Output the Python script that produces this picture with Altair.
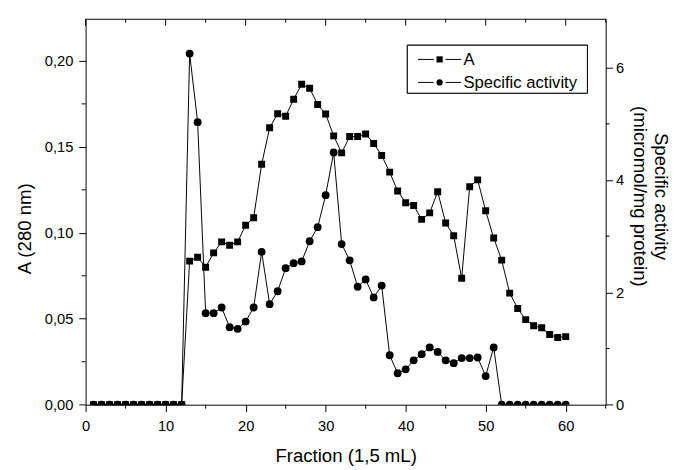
import altair as alt
import pandas as pd

# ---------------- data ----------------
fractions = [1, 2, 3, 4, 5, 6, 7, 8, 9, 10, 11, 12, 13, 14, 15, 16, 17, 18, 19, 20,
             21, 22, 23, 24, 25, 26, 27, 28, 29, 30, 31, 32, 33, 34, 35, 36, 37, 38, 39, 40,
             41, 42, 43, 44, 45, 46, 47, 48, 49, 50, 51, 52, 53, 54, 55, 56, 57, 58, 59, 60]

absorbance_280 = [0, 0, 0, 0, 0, 0, 0, 0, 0, 0, 0, 0,
                  0.0835, 0.0858, 0.0800, 0.0883, 0.0947, 0.0928, 0.0947, 0.1044,
                  0.1088, 0.1399, 0.1611, 0.1693, 0.1678, 0.1777, 0.1864, 0.1841,
                  0.1746, 0.1691, 0.1564, 0.1465, 0.1560, 0.1560, 0.1575, 0.1520,
                  0.1450, 0.1353, 0.1243, 0.1175, 0.1159, 0.1078, 0.1116, 0.1239,
                  0.1057, 0.0983, 0.0736, 0.1268, 0.1308, 0.1128, 0.0970, 0.0841,
                  0.0649, 0.0560, 0.0495, 0.0459, 0.0448, 0.0408, 0.0391, 0.0396]

specific_activity = [0, 0, 0, 0, 0, 0, 0, 0, 0, 0, 0, 0,
                     6.25, 5.03, 1.63, 1.63, 1.73, 1.38, 1.35, 1.48,
                     1.73, 2.72, 1.79, 2.02, 2.43, 2.52, 2.55, 2.91,
                     3.16, 3.73, 4.49, 2.86, 2.57, 2.10, 2.23, 1.91,
                     2.12, 0.88, 0.56, 0.63, 0.79, 0.90, 1.02, 0.94,
                     0.79, 0.74, 0.83, 0.83, 0.84, 0.51, 1.02, 0,
                     0, 0, 0, 0, 0, 0, 0, 0]

x_major_ticks = [0, 10, 20, 30, 40, 50, 60]
x_minor_ticks = [5, 15, 25, 35, 45, 55, 65]
a_major_ticks = [0.0, 0.05, 0.10, 0.15, 0.20]
a_minor_ticks = [0.025, 0.075, 0.125, 0.175]
sa_major_ticks = [0, 2, 4, 6]
sa_minor_ticks = [1, 3, 5]
series_names = ["A", "Specific activity"]
series_shapes = ["square", "circle"]

# ---------------- layout / style ----------------
W, H = 531.4, 394.3
FONT = "Liberation Sans"
MAJ, MIN = 7, 4
TITLE_FS = 19

df = pd.DataFrame({"fraction": fractions, "A": absorbance_280, "SA": specific_activity})
legend_df = pd.DataFrame({"series": series_names})

x_scale = alt.Scale(domain=[0, 65], nice=False, zero=False)
a_scale = alt.Scale(domain=[0, 0.2245], nice=False)
sa_scale = alt.Scale(domain=[0, 6.87], nice=False)

x_axis = alt.Axis(orient="bottom", values=x_major_ticks, format="d", title="Fraction (1,5 mL)",
                  labelFontSize=15, tickSize=MAJ, labelPadding=7,
                  titleFontSize=TITLE_FS, titleFontWeight="normal",
                  titleBaseline="alphabetic", titleY=57.7,
                  domain=False, grid=False, labelFlush=False)

a_axis = alt.Axis(orient="left", values=a_major_ticks,
                  labelExpr="replace(format(datum.value, '.2f'), '.', ',')",
                  labelFontSize=15, tickSize=MAJ, labelPadding=6,
                  title="A (280 nm)", titleFontSize=TITLE_FS, titleFontWeight="normal",
                  titlePadding=10, titleY=214,
                  domain=False, grid=False, labelFlush=False)

sa_axis = alt.Axis(orient="right", values=sa_major_ticks, format="d",
                   labelFontSize=15, tickSize=MAJ, labelPadding=3,
                   title=["Specific activity", "(micromol/mg protein)"],
                   titleFontSize=TITLE_FS, titleFontWeight="normal", titleLineHeight=21.6,
                   titlePadding=6, titleY=181,
                   domain=False, grid=False, labelFlush=False)


def X(field="fraction:Q"):
    # every layer on the shared x scale carries the identical axis definition
    return alt.X(field, scale=x_scale, axis=x_axis)


# ---------------- data layers ----------------
line_sa = alt.Chart(df).mark_line(color="black", strokeWidth=1).encode(
    x=X(), y=alt.Y("SA:Q", scale=sa_scale, axis=sa_axis))
pts_sa = alt.Chart(df).mark_point(shape="circle", filled=True, color="black",
                                  size=64, opacity=1, clip=True).encode(
    x=X(), y=alt.Y("SA:Q", scale=sa_scale, axis=None))
line_a = alt.Chart(df).mark_line(color="black", strokeWidth=1).encode(
    x=X(), y=alt.Y("A:Q", scale=a_scale, axis=a_axis))
pts_a = alt.Chart(df).mark_point(shape="square", filled=True, color="black",
                                 size=50, opacity=1, clip=True).encode(
    x=X(), y=alt.Y("A:Q", scale=a_scale, axis=None))

# ---------------- minor / mirrored ticks ----------------
left_minor = alt.Chart(pd.DataFrame({"v": a_minor_ticks})).mark_rule(color="black").encode(
    y=alt.Y("v:Q", scale=a_scale, axis=None), x=alt.value(0), x2=alt.value(-MIN))
right_minor = alt.Chart(pd.DataFrame({"v": sa_minor_ticks})).mark_rule(color="black").encode(
    y=alt.Y("v:Q", scale=sa_scale, axis=None), x=alt.value(W), x2=alt.value(W + MIN))
bottom_minor = alt.Chart(pd.DataFrame({"v": x_minor_ticks})).mark_rule(color="black").encode(
    x=X("v:Q"), y=alt.value(H), y2=alt.value(H + MIN))
top_major = alt.Chart(pd.DataFrame({"v": x_major_ticks})).mark_rule(color="black").encode(
    x=X("v:Q"), y=alt.value(0), y2=alt.value(MAJ))
top_minor = alt.Chart(pd.DataFrame({"v": x_minor_ticks})).mark_rule(color="black").encode(
    x=X("v:Q"), y=alt.value(0), y2=alt.value(MIN))

# ---------------- legend (box, line-marker-line symbols, labels) ----------------
LX0, LX1, LY0, LY1 = 328.7, 512.7, 27, 76
row_y = alt.Y("series:N", scale=alt.Scale(type="point", domain=series_names,
                                          range=[41.5, 65], padding=0), axis=None)
leg_box = alt.Chart(legend_df).mark_rect(fill="white", stroke="black", strokeWidth=1).encode(
    x=alt.value(LX0), x2=alt.value(LX1), y=alt.value(LY0), y2=alt.value(LY1))
leg_line_l = alt.Chart(legend_df).mark_rule(color="black", strokeWidth=1).encode(
    x=alt.value(339.7), x2=alt.value(355.7), y=row_y)
leg_line_r = alt.Chart(legend_df).mark_rule(color="black", strokeWidth=1).encode(
    x=alt.value(367.7), x2=alt.value(383.7), y=row_y)
leg_pts = alt.Chart(legend_df).mark_point(filled=True, color="black", size=40,
                                          opacity=1).encode(
    x=alt.value(361.7), y=row_y,
    shape=alt.Shape("series:N", scale=alt.Scale(domain=series_names, range=series_shapes),
                    legend=None))
leg_text = alt.Chart(legend_df).mark_text(align="left", baseline="middle", fontSize=17,
                                          color="black", dy=1).encode(
    x=alt.value(386), y=row_y, text="series:N")

chart = alt.layer(
    line_sa, pts_sa, line_a, pts_a,
    left_minor, right_minor, bottom_minor, top_major, top_minor,
    leg_box, leg_line_l, leg_line_r, leg_pts, leg_text,
).resolve_scale(
    y="independent"
).properties(
    width=W, height=H,
    autosize=alt.AutoSizeParams(type="none"),
    padding={"left": 79.3, "top": 6, "right": 80, "bottom": 62},
).configure(font=FONT).configure_view(
    stroke="black", strokeWidth=1
).configure_axis(
    tickColor="black", labelColor="black", titleColor="black", tickWidth=1
)

chart.save("out.html", embed_options={"renderer": "svg", "actions": False})
